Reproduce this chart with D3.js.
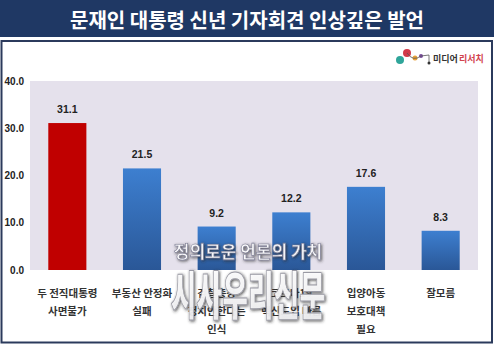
<!DOCTYPE html>
<html>
<head>
<meta charset="utf-8">
<script src="https://cdn.jsdelivr.net/npm/d3@7"></script>
<style>
  html, body { margin: 0; padding: 0; background: #ffffff; }
  svg { display: block; }
</style>
</head>
<body>
<svg id="chart" width="494" height="346"></svg>
<script>
// Survey: most memorable remarks from the New Year press conference (%)
const categories = [
  ["두 전직대통령", "사면불가"],
  ["부동산 안정화", "실패"],
  ["검찰총장", "정치안한다는", "인식"],
  ["코로나19", "백신도입 빠름"],
  ["입양아동", "보호대책", "필요"],
  ["잘모름"]
];
const values = [31.1, 21.5, 9.2, 12.2, 17.6, 8.3];
const yTicks = [0, 10, 20, 30, 40];
const titleText = "문재인 대통령 신년 기자회견 인상깊은 발언";

const svg = d3.select("#chart");
const W = 494, H = 346;
const KR = "'Noto Sans CJK KR', 'Noto Sans', sans-serif";
const NUM = "'Liberation Sans', Arial, sans-serif";

// gradient for blue bars
const defs = svg.append("defs");
const g1 = defs.append("linearGradient").attr("id", "blueGrad")
  .attr("x1", 0).attr("y1", 0).attr("x2", 0).attr("y2", 1);
g1.append("stop").attr("offset", "0%").attr("stop-color", "#3d7fd0");
g1.append("stop").attr("offset", "100%").attr("stop-color", "#2a5797");
const g2 = defs.append("linearGradient").attr("id", "wmGrad")
  .attr("x1", 0).attr("y1", 0).attr("x2", 0).attr("y2", 1);
g2.append("stop").attr("offset", "0%").attr("stop-color", "#ffffff").attr("stop-opacity", 1);
g2.append("stop").attr("offset", "100%").attr("stop-color", "#f2f2f4").attr("stop-opacity", 0.85);
const blur = defs.append("filter").attr("id", "wmShadow")
  .attr("x", "-20%").attr("y", "-20%").attr("width", "140%").attr("height", "140%");
blur.append("feDropShadow").attr("dx", 1).attr("dy", 1).attr("stdDeviation", 1.8)
  .attr("flood-color", "#2a2a2a").attr("flood-opacity", 0.85);

// title banner
svg.append("rect").attr("x", 0).attr("y", 0).attr("width", W).attr("height", 37)
  .attr("fill", "#1f3864");
svg.append("text").attr("x", W / 2).attr("y", 19)
  .attr("text-anchor", "middle").attr("dominant-baseline", "central")
  .attr("font-family", KR).attr("font-weight", "bold").attr("font-size", 20)
  .attr("fill", "#ffffff").text(titleText);

// outer chart frame
svg.append("rect").attr("x", 1.5).attr("y", 41).attr("width", 490.5).attr("height", 301.5)
  .attr("fill", "#ffffff").attr("stroke", "#2b3a5c").attr("stroke-width", 2);

// plot area
const plot = { left: 30, right: 478, top: 81, bottom: 270 };
svg.append("rect").attr("x", plot.left).attr("y", plot.top)
  .attr("width", plot.right - plot.left).attr("height", plot.bottom - plot.top)
  .attr("fill", "#e5e1ec");

const x = d3.scaleBand().domain(d3.range(values.length))
  .range([plot.left, plot.right]).paddingInner(0.49).paddingOuter(0.245);
const y = d3.scaleLinear().domain([0, 40]).range([plot.bottom, plot.top]);

// y axis labels
const yAxis = d3.axisLeft(y).tickValues(yTicks).tickFormat(d3.format(".1f")).tickSize(0);
const ya = svg.append("g").attr("transform", "translate(24,0)").call(yAxis);
ya.select(".domain").remove();
ya.selectAll("text").attr("font-family", NUM).attr("font-weight", "bold")
  .attr("font-size", 10).attr("fill", "#222").attr("x", 0).attr("text-anchor", "end");

// bars
svg.append("g").selectAll("rect").data(values).join("rect")
  .attr("x", (d, i) => x(i)).attr("width", x.bandwidth())
  .attr("y", d => y(d)).attr("height", d => y(0) - y(d))
  .attr("fill", (d, i) => i === 0 ? "#c00000" : "url(#blueGrad)");

// value labels
svg.append("g").selectAll("text").data(values).join("text")
  .attr("x", (d, i) => x(i) + x.bandwidth() / 2).attr("y", d => y(d) - 10)
  .attr("text-anchor", "middle").attr("font-family", NUM).attr("font-weight", "bold")
  .attr("font-size", 10.5).attr("fill", "#222").text(d => d.toFixed(1));

// category labels
const cat = svg.append("g").selectAll("text").data(categories).join("text")
  .attr("x", (d, i) => x(i) + x.bandwidth() / 2).attr("y", 297)
  .attr("text-anchor", "middle").attr("font-family", KR).attr("font-weight", "bold")
  .attr("font-size", 10.5).attr("fill", "#333");
cat.selectAll("tspan").data(d => d).join("tspan")
  .attr("x", function () { return d3.select(this.parentNode).attr("x"); })
  .attr("dy", (d, i) => i === 0 ? 0 : 18).text(d => d);

// research firm logo
const logo = svg.append("g").attr("transform", "translate(395,50)");
logo.append("circle").attr("cx", 12).attr("cy", 3).attr("r", 4).attr("fill", "#d23a4a");
logo.append("circle").attr("cx", 5).attr("cy", 10).attr("r", 4).attr("fill", "#2fa59a");
logo.append("circle").attr("cx", 20).attr("cy", 8).attr("r", 2.5).attr("fill", "#e8a23a");
logo.append("circle").attr("cx", 26).attr("cy", 6).attr("r", 2).attr("fill", "#7a4aa0");
logo.append("path").attr("d", "M12,3 Q18,12 26,6 L34,5 L34,13")
  .attr("fill", "none").attr("stroke", "#555").attr("stroke-width", 0.8);
logo.append("circle").attr("cx", 34).attr("cy", 13).attr("r", 1.5).attr("fill", "#333");
logo.append("text").attr("x", 38).attr("y", 12).attr("font-family", KR)
  .attr("font-weight", "bold").attr("font-size", 9).attr("fill", "#333").text("미디어");
logo.append("text").attr("x", 64).attr("y", 12).attr("font-family", KR)
  .attr("font-weight", "bold").attr("font-size", 9).attr("fill", "#d2454f").text("리서치");

// newspaper watermark
const wm = svg.append("g").attr("filter", "url(#wmShadow)");
wm.append("text").attr("x", 248).attr("y", 258).attr("text-anchor", "middle")
  .attr("font-family", KR).attr("font-weight", "bold").attr("font-size", 17)
  .attr("fill", "#ffffff").attr("fill-opacity", 0.92)
  .attr("stroke", "#7a7a92").attr("stroke-width", 0.6).text("정의로운 언론의 가치");
wm.append("text").attr("transform", "translate(248,315) scale(0.56,1.05)")
  .attr("text-anchor", "middle").attr("font-family", KR).attr("font-weight", "900")
  .attr("font-size", 50).attr("fill", "url(#wmGrad)")
  .attr("stroke", "#9a9aa4").attr("stroke-width", 1).text("시사우리신문");
</script>
</body>
</html>
